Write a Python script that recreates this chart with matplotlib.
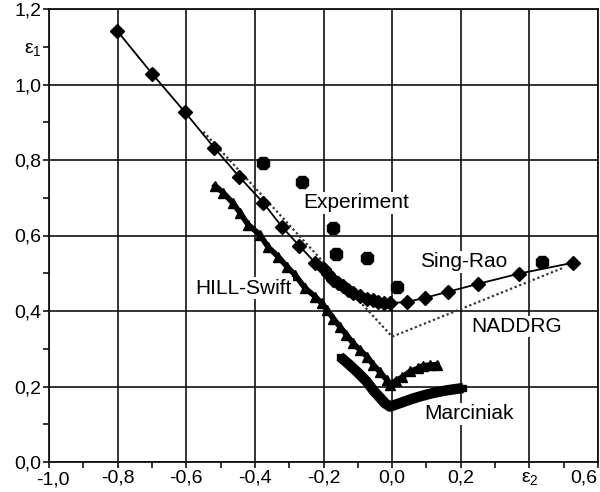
import matplotlib
matplotlib.use("Agg")
import matplotlib.pyplot as plt
from matplotlib.ticker import FixedLocator, FixedFormatter

plt.rcParams['font.family'] = ['Liberation Sans', 'DejaVu Sans']
plt.rcParams['mathtext.fontset'] = 'custom'
plt.rcParams['mathtext.rm'] = 'Liberation Sans'
plt.rcParams['mathtext.it'] = 'Liberation Sans'

# ---- data ----
sing_rao_x = [-0.802, -0.700, -0.603, -0.519, -0.446, -0.376, -0.321, -0.271, -0.224,
              -0.200, -0.186, -0.172, -0.157, -0.143, -0.128, -0.114, -0.094, -0.073,
              -0.057, -0.041, -0.024, -0.006, 0.044, 0.096, 0.163, 0.251, 0.370, 0.528]
sing_rao_y = [1.143, 1.029, 0.926, 0.833, 0.756, 0.687, 0.623, 0.573, 0.528,
              0.510, 0.497, 0.483, 0.474, 0.465, 0.456, 0.448, 0.440, 0.432,
              0.428, 0.424, 0.422, 0.421, 0.424, 0.435, 0.451, 0.472, 0.499, 0.528]

naddrg_x = [-0.55, 0.0, 0.50]
naddrg_y = [0.875, 0.332, 0.515]

exp_x = [-0.376, -0.262, -0.172, -0.163, -0.073, 0.015, 0.437]
exp_y = [0.793, 0.743, 0.621, 0.552, 0.541, 0.464, 0.530]

hill_x = [-0.516, -0.492, -0.465, -0.443, -0.420, -0.385, -0.362, -0.332, -0.306, -0.283,
          -0.254, -0.224, -0.205, -0.190, -0.171, -0.152, -0.133, -0.114, -0.094, -0.073,
          -0.055, -0.035, -0.016, -0.006, 0.010, 0.030, 0.052, 0.075, 0.090, 0.110, 0.130]
hill_y = [0.732, 0.713, 0.687, 0.660, 0.629, 0.602, 0.570, 0.544, 0.517, 0.496,
          0.461, 0.438, 0.420, 0.403, 0.380, 0.358, 0.337, 0.315, 0.297, 0.279,
          0.258, 0.238, 0.218, 0.205, 0.215, 0.225, 0.240, 0.248, 0.255, 0.257, 0.258]

marc_x = [-0.152, -0.130, -0.100, -0.074, -0.055, -0.035, -0.020, -0.006,
          0.023, 0.060, 0.090, 0.120, 0.160, 0.207]
marc_y = [0.279, 0.262, 0.237, 0.213, 0.190, 0.170, 0.155, 0.147,
          0.156, 0.168, 0.176, 0.183, 0.190, 0.196]

x_major = [-1.0, -0.8, -0.6, -0.4, -0.2, 0.0, 0.2, 0.4, 0.6]
x_labels = ['-1,0', '-0,8', '-0,6', '-0,4', '-0,2', '0,0', '0,2', 'ε$_2$', '0,6']
x_minor = [-0.9, -0.7, -0.5, -0.3, -0.1, 0.1, 0.3, 0.5]
y_major = [0.0, 0.2, 0.4, 0.6, 0.8, 1.0, 1.2]
y_labels = ['0,0', '0,2', '0,4', '0,6', '0,8', '1,0', '1,2']
y_minor = [0.1, 0.3, 0.5, 0.7, 0.9, 1.1]
y_minor_labels = ['', '', '', '', '', 'ε$_1$']

# ---- figure ----
fig = plt.figure(figsize=(6, 4.92), dpi=100)
ax = fig.add_axes([49/600, 30/492, 549/600, 453/492])
ax.set_xlim(-1.0, 0.6)
ax.set_ylim(0.0, 1.2)

ax.grid(True, which='major', color='#111111', lw=1.2)
ax.set_axisbelow(True)
for s in ax.spines.values():
    s.set_color('#111111')
    s.set_linewidth(1.3)

# the two end labels of the x axis are placed by hand (shifted inward as in the original)
inner_labels = [''] + x_labels[1:-1] + ['']
ax.xaxis.set_major_locator(FixedLocator(x_major))
ax.xaxis.set_major_formatter(FixedFormatter(inner_labels))
ax.xaxis.set_minor_locator(FixedLocator(x_minor))
ax.yaxis.set_major_locator(FixedLocator(y_major))
ax.yaxis.set_major_formatter(FixedFormatter(y_labels))
ax.yaxis.set_minor_locator(FixedLocator(y_minor))
ax.yaxis.set_minor_formatter(FixedFormatter(y_minor_labels))
ax.tick_params(which='both', direction='out', length=4, width=1.2, color='#111111',
               labelsize=14, pad=1.5)

ax.annotate(x_labels[0], xy=(x_major[0], 0), xycoords=('data', 'axes fraction'),
            xytext=(2.5, -6.5), textcoords='offset points', ha='center', va='top',
            fontsize=14, annotation_clip=False)
ax.annotate(x_labels[-1], xy=(x_major[-1], 0), xycoords=('data', 'axes fraction'),
            xytext=(-0.5, -5.5), textcoords='offset points', ha='right', va='top',
            fontsize=14, annotation_clip=False)

ax.plot(naddrg_x, naddrg_y, ls=(0, (1, 1.2)), color='#333333', lw=1.6, zorder=3)
ax.plot(sing_rao_x, sing_rao_y, color='black', lw=1.3, marker='D', ms=7.5,
        mfc='black', mec='black', zorder=4)
ax.plot(hill_x, hill_y, color='black', lw=4, marker='^', ms=7.5, zorder=4)
ax.plot(marc_x, marc_y, color='black', lw=7.5, marker='s', ms=5, zorder=4,
        solid_capstyle='butt')
ax.plot(exp_x, exp_y, ls='none', marker='8', ms=9.5, color='black', zorder=5)

bb = dict(facecolor='white', edgecolor='none', pad=1.0)
fs = 15
ax.text(-0.26, 0.687, 'Experiment', fontsize=fs, va='center', ha='left', bbox=bb, zorder=6)
ax.text(0.082, 0.531, 'Sing-Rao', fontsize=fs, va='center', ha='left', bbox=bb, zorder=6)
ax.text(0.232, 0.359, 'NADDRG', fontsize=fs, va='center', ha='left', bbox=bb, zorder=6)
ax.text(-0.574, 0.46, 'HILL-Swift', fontsize=fs, va='center', ha='left', bbox=bb, zorder=6)
ax.text(0.095, 0.128, 'Marciniak', fontsize=fs, va='center', ha='left', bbox=bb, zorder=6)

fig.savefig('out.png', dpi=100)
